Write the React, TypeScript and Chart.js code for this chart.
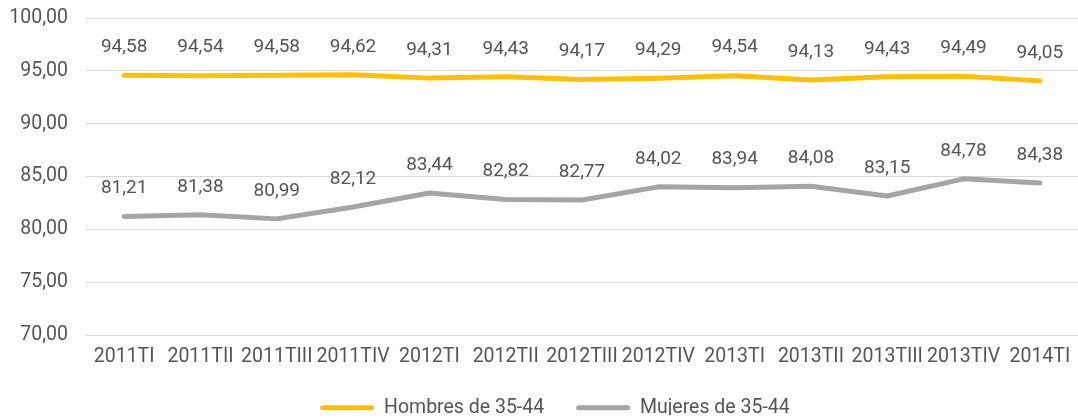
import React, { useEffect, useRef } from "react";
import { Chart, registerables } from "chart.js";

Chart.register(...registerables);

const categories = ["2011TI", "2011TII", "2011TIII", "2011TIV", "2012TI", "2012TII", "2012TIII", "2012TIV", "2013TI", "2013TII", "2013TIII", "2013TIV", "2014TI"];
const hombres = [94.58, 94.54, 94.58, 94.62, 94.31, 94.43, 94.17, 94.29, 94.54, 94.13, 94.43, 94.49, 94.05];
const mujeres = [81.21, 81.38, 80.99, 82.12, 83.44, 82.82, 82.77, 84.02, 83.94, 84.08, 83.15, 84.78, 84.38];
const seriesNames = ["Hombres de 35-44", "Mujeres de 35-44"];

const FONT = "Roboto";
const TEXT = "#555555";
const fmt = (v: number) => v.toFixed(2).replace(".", ",");

const labelPlugin = {
  id: "valueLabels",
  afterDatasetsDraw(chart: any) {
    const ctx = chart.ctx;
    ctx.save();
    ctx.font = `19px ${FONT}`;
    ctx.fillStyle = TEXT;
    ctx.textAlign = "center";
    ctx.textBaseline = "middle";
    chart.data.datasets.forEach((ds: any, i: number) => {
      const meta = chart.getDatasetMeta(i);
      meta.data.forEach((pt: any, j: number) => {
        ctx.fillText(fmt(ds.data[j]), pt.x, pt.y - 28);
      });
    });
    ctx.restore();
  },
};

const legendShift = {
  id: "legendShift",
  afterLayout(chart: any) {
    const lg = chart.legend;
    if (!lg) return;
    lg.top -= 3;
    lg.bottom -= 3;
    lg.left += 12;
    lg.right += 12;
  },
};

export default function App() {
  const ref = useRef<HTMLCanvasElement>(null);
  useEffect(() => {
    document.body.style.margin = "0";
    const chart = new Chart(ref.current!, {
      type: "line",
      data: {
        labels: categories,
        datasets: [
          { label: seriesNames[0], data: hombres, borderColor: "#FFC000", backgroundColor: "#FFC000", borderWidth: 5, pointRadius: 0, borderCapStyle: "round", borderJoinStyle: "round", tension: 0 },
          { label: seriesNames[1], data: mujeres, borderColor: "#A5A5A5", backgroundColor: "#A5A5A5", borderWidth: 5, pointRadius: 0, borderCapStyle: "round", borderJoinStyle: "round", tension: 0 },
        ],
      },
      options: {
        animation: false,
        responsive: false,
        maintainAspectRatio: false,
        layout: { padding: { left: 8, right: 0, top: 18, bottom: 0 } },
        plugins: {
          tooltip: { enabled: false },
          legend: {
            position: "bottom",
            maxHeight: 49,
            labels: {
              font: { family: FONT, size: 19.5 },
              color: TEXT,
              boxWidth: 54,
              boxHeight: 5,
              padding: 32,
              useBorderRadius: true,
              borderRadius: 2.5,
              generateLabels: (chart: any) =>
                Chart.defaults.plugins.legend.labels.generateLabels(chart).map((l: any) => ({
                  ...l,
                  lineWidth: 0,
                  fillStyle: l.strokeStyle,
                })),
            },
          },
        },
        scales: {
          x: {
            offset: true,
            grid: { display: false, drawTicks: false },
            border: { display: false },
            ticks: { font: { family: FONT, size: 19.5 }, color: TEXT, padding: 10, maxRotation: 0, autoSkip: false },
            afterFit: (s: any) => { s.height = 34; s.paddingLeft = 0; s.paddingRight = 0; },
          },
          y: {
            min: 70,
            max: 100,
            grid: { color: "#D9D9D9", lineWidth: 1, drawTicks: false },
            border: { display: false },
            ticks: { stepSize: 5, font: { family: FONT, size: 19.5 }, color: TEXT, padding: 18, callback: (v: any) => fmt(Number(v)) },
            afterFit: (s: any) => { s.width = 78; s.paddingTop = 0; s.paddingBottom = 0; },
          },
        },
      },
      plugins: [labelPlugin, legendShift],
    } as any);
    return () => chart.destroy();
  }, []);
  return (
    <div style={{ width: 1078, height: 418 }}>
      <canvas ref={ref} width={1078} height={418} />
    </div>
  );
}
